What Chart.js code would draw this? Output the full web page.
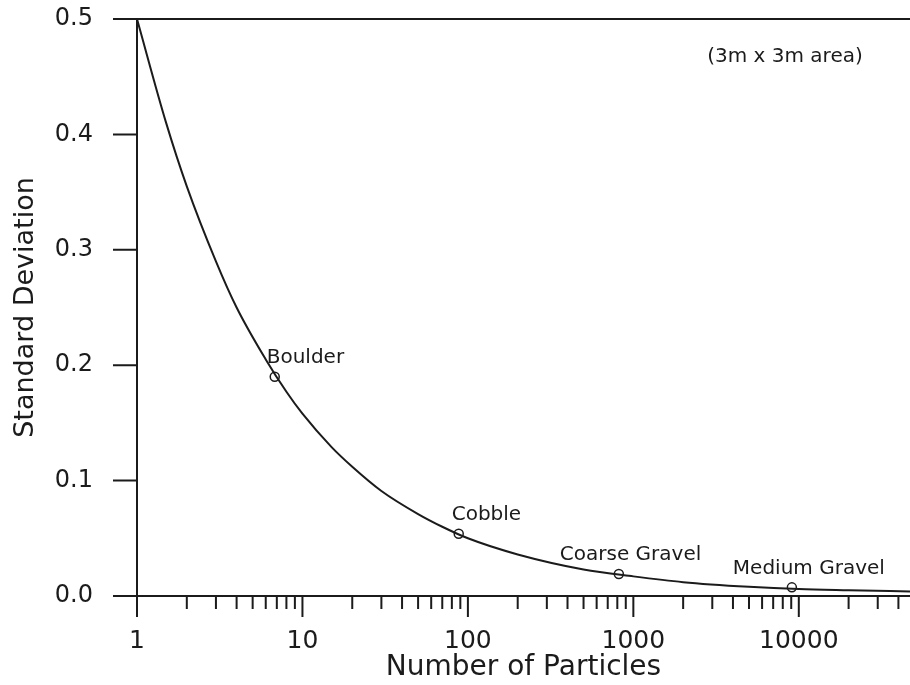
<!DOCTYPE html>
<html>
<head>
<meta charset="utf-8">
<script src="https://cdn.jsdelivr.net/npm/chart.js@4/dist/chart.umd.min.js"></script>
<style>
  body { margin: 0; background: #fff; }
  canvas { display: block; }
</style>
</head>
<body>
<canvas id="myChart" width="910" height="685"></canvas>
<script>
// sampling curve: standard deviation against number of particles
const particleCounts = [1, 1.5, 2, 3, 4, 6, 8, 10, 15, 20, 30, 50, 70, 100, 200, 500, 1000, 2000, 5000, 10000, 20000, 47000];
const stdDevs = [0.5, 0.41, 0.355, 0.29, 0.25, 0.205, 0.177, 0.158, 0.129, 0.112, 0.091, 0.071, 0.06, 0.05, 0.036, 0.023, 0.017, 0.012, 0.008, 0.006, 0.005, 0.004];

// marked size classes
const classNames = ['Boulder', 'Cobble', 'Coarse Gravel', 'Medium Gravel'];
const classCounts = [6.8, 88, 817, 9080];
const classStdDevs = [0.19, 0.054, 0.019, 0.0075];

const yTicks = [0, 0.1, 0.2, 0.3, 0.4, 0.5];
const xMax = 47000;

const ink = '#1b1b1b';
const FONT = '"DejaVu Sans", sans-serif';

// 1..9 times each decade, for the tick marks
function logTicks(max) {
    const out = [];
    for (let d = 1; d <= max; d *= 10) {
        for (let m = 1; m <= 9; m++) {
            if (m * d <= max) out.push(m * d);
        }
    }
    return out;
}

// axis lines and tick marks, drawn outside the plot like a pen plotter
const framePlugin = {
    id: 'frame',
    afterDraw(chart) {
        const ctx = chart.ctx;
        const xs = chart.scales.x, ys = chart.scales.y;
        const {left, right, top, bottom} = chart.chartArea;
        ctx.save();
        ctx.strokeStyle = ink;
        ctx.lineWidth = 2;
        ctx.beginPath();
        // y axis (continues down as the tick at 1)
        ctx.moveTo(left, top);
        ctx.lineTo(left, bottom + 21);
        // top line
        ctx.moveTo(left - 24, top);
        ctx.lineTo(right, top);
        // x axis
        ctx.moveTo(left - 21, bottom);
        ctx.lineTo(right, bottom);
        yTicks.forEach(v => {
            const py = ys.getPixelForValue(v);
            ctx.moveTo(left - 24, py);
            ctx.lineTo(left, py);
        });
        logTicks(xMax).forEach(v => {
            const px = xs.getPixelForValue(v);
            const major = Math.abs(Math.log10(v) - Math.round(Math.log10(v))) < 1e-9;
            ctx.moveTo(px, bottom);
            ctx.lineTo(px, bottom + (major ? 21 : 13));
        });
        ctx.stroke();

        // point labels
        const meta = chart.getDatasetMeta(1);
        const dx = [-8, -7, -59, -59];
        ctx.fillStyle = ink;
        ctx.font = '20px ' + FONT;
        ctx.textAlign = 'left';
        ctx.textBaseline = 'middle';
        meta.data.forEach((pt, i) => {
            ctx.fillText(classNames[i], pt.x + dx[i], pt.y - 19);
        });

        // area note
        ctx.font = '20px ' + FONT;
        ctx.textAlign = 'center';
        ctx.fillText('(3m x 3m area)', 785, 57);
        ctx.restore();
    }
};

const ctx = document.getElementById('myChart').getContext('2d');
const mychart = new Chart(ctx, {
    type: 'line',
    data: {
        datasets: [{
            data: particleCounts.map((n, i) => ({x: n, y: stdDevs[i]})),
            borderColor: ink,
            borderWidth: 2,
            pointRadius: 0,
            cubicInterpolationMode: 'monotone',
            clip: false
        }, {
            data: classCounts.map((n, i) => ({x: n, y: classStdDevs[i]})),
            showLine: false,
            pointRadius: 4.5,
            pointBorderWidth: 1.5,
            pointBorderColor: ink,
            pointBackgroundColor: 'rgba(255,255,255,0)',
            clip: false
        }]
    },
    options: {
        responsive: false,
        animation: false,
        layout: { autoPadding: false, padding: { top: 19, right: 0, left: 0, bottom: 0 } },
        plugins: { legend: { display: false }, tooltip: { enabled: false } },
        scales: {
            x: {
                type: 'logarithmic',
                min: 1,
                max: xMax,
                border: { display: false },
                grid: { display: false, drawTicks: false },
                afterBuildTicks: s => { s.ticks = logTicks(xMax).map(v => ({value: v})); },
                ticks: {
                    autoSkip: false,
                    maxRotation: 0,
                    padding: 30,
                    color: ink,
                    font: { family: FONT, size: 25 },
                    callback: v => {
                        const l = Math.log10(v);
                        return Math.abs(l - Math.round(l)) < 1e-9 ? String(v) : '';
                    }
                },
                title: {
                    display: true,
                    text: 'Number of Particles',
                    color: ink,
                    font: { family: FONT, size: 28 },
                    padding: { top: 0, bottom: 0 }
                },
                afterFit: s => {
                    s.height = 89;
                    s.paddingLeft = 0;
                    s.paddingRight = 0;
                }
            },
            y: {
                min: 0,
                max: 0.5,
                border: { display: false },
                grid: { display: false, drawTicks: false },
                afterBuildTicks: s => { s.ticks = yTicks.map(v => ({value: v})); },
                ticks: {
                    padding: 44,
                    color: ink,
                    font: { family: FONT, size: 24 },
                    callback: v => v.toFixed(1)
                },
                title: {
                    display: true,
                    text: 'Standard Deviation',
                    color: ink,
                    font: { family: FONT, size: 27 },
                    padding: { top: 10, bottom: 0 }
                },
                afterFit: s => {
                    s.width = 137;
                    s.paddingTop = 0;
                    s.paddingBottom = 0;
                }
            }
        }
    },
    plugins: [framePlugin]
});
</script>
</body>
</html>
